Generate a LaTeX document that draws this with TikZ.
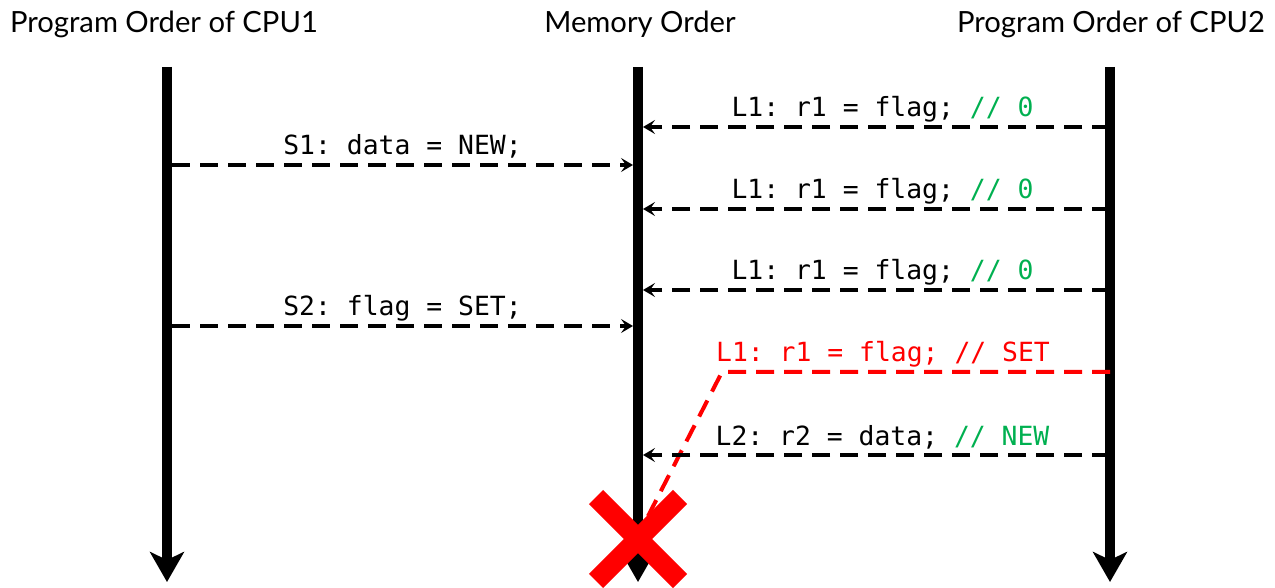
\documentclass[tikz,border=0pt]{standalone}
\usepackage{fontspec}
\setmainfont{Lato}
\newfontfamily\codefont{DejaVu Sans Mono}
\usetikzlibrary{arrows.meta}
\definecolor{codegreen}{RGB}{0,176,80}

\begin{document}
\begin{tikzpicture}[x=0.5pt, y=-0.5pt,
    lifeline/.style={line width=5pt, -{Stealth[length=15pt, width=17pt, inset=4pt]}},
    msg/.style={line width=2pt, dash pattern=on 9pt off 5pt, -{Stealth[length=6pt, width=7pt, inset=2.5pt]}},
    code/.style={font=\codefont\frenchspacing\fontsize{13.2}{16}\selectfont, anchor=base, inner sep=0pt, yshift=5pt},
    title/.style={font=\fontsize{14.6}{18}\selectfont, anchor=base, inner sep=0pt}]
        \useasboundingbox (0,0) rectangle (1275,588);
        \node[title] (titleA) at (164,33) {Program Order of CPU1};
        \node[title] (titleM) at (640,33) {Memory Order};
        \node[title] (titleB) at (1111,33) {Program Order of CPU2};
        \coordinate (cpuAtop) at (167,67);  \coordinate (cpuAbot) at (167,582);
        \coordinate (memtop)  at (638,67);  \coordinate (membot)  at (638,582);
        \coordinate (cpuBtop) at (1110,67); \coordinate (cpuBbot) at (1110,582);
        \draw[lifeline] (cpuAtop) -- (cpuAbot);
        \draw[lifeline] (memtop) -- (membot);
        \draw[lifeline] (cpuBtop) -- (cpuBbot);
        % loads of flag that still see 0
        \foreach \i/\y in {1/127, 2/209, 3/290} {
            \coordinate (load\i) at (1110,\y);
            \coordinate (seen\i) at (643,\y);
            \draw[msg] (load\i) -- node[code, pos=0.5, xshift=3pt] {L1: r1 = flag; \textcolor{codegreen}{// 0}} (seen\i);
        }
        % stores of CPU1
        \coordinate (storeA) at (172,165); \coordinate (doneA) at (633,165);
        \coordinate (storeB) at (172,326); \coordinate (doneB) at (633,326);
        \draw[msg] (storeA) -- node[code, pos=0.5] {S1: data = NEW;} (doneA);
        \draw[msg] (storeB) -- node[code, pos=0.5] {S2: flag = SET;} (doneB);
        % the load that sees SET
        \coordinate (loadSet) at (1110,372);
        \coordinate (bend) at (722,372);
        \coordinate (seenSet) at (645,522);
        \draw[msg, red, -] (loadSet) -- node[code, pos=0.585] {L1: r1 = flag; // SET} (bend) -- (seenSet);
        \coordinate (loadData) at (1110,455); \coordinate (seenData) at (643,455);
        \draw[msg] (loadData) -- node[code, pos=0.5, xshift=3pt] {L2: r2 = data; \textcolor{codegreen}{// NEW}} (seenData);
        % the cross
        \coordinate (cross) at (638,539);
        \draw[red, line width=10pt] (cross) ++(-42,-42) -- ++(84,84);
        \draw[red, line width=10pt] (cross) ++(42,-42) -- ++(-84,84);
\end{tikzpicture}
\end{document}
